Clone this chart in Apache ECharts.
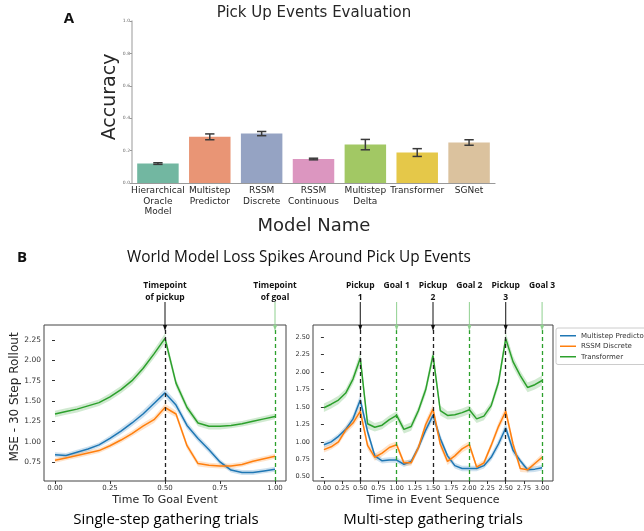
<!DOCTYPE html>
<html>
<head>
<meta charset="utf-8">
<script src="https://cdn.jsdelivr.net/npm/echarts@6/dist/echarts.min.js"></script>
<style>
  html, body { margin: 0; padding: 0; background: #fff; }
  #chart { width: 644px; height: 531px; }
</style>
</head>
<body>
<div id="chart"></div>
<script>
// ---- panel A: pick up accuracy per model ----
const modelNames = ['Hierarchical\nOracle\nModel', 'Multistep\nPredictor', 'RSSM\nDiscrete', 'RSSM\nContinuous', 'Multistep\nDelta', 'Transformer', 'SGNet'];
const accuracy = [0.12, 0.285, 0.305, 0.148, 0.237, 0.188, 0.25];
const accuracyErr = [0.005, 0.018, 0.013, 0.005, 0.032, 0.024, 0.017];
const barColors = ['#72b7a1', '#e99575', '#95a3c3', '#dc96c0', '#a2c864', '#e5c849', '#dbc29e'];

// ---- panel B left: single-step trials ----
const singleTime = [0, 0.05, 0.1, 0.15, 0.2, 0.25, 0.3, 0.35, 0.4, 0.45, 0.5, 0.55, 0.6, 0.65, 0.7, 0.75, 0.8, 0.85, 0.9, 0.95, 1.0];
const singleMultistep = [0.84, 0.83, 0.87, 0.91, 0.96, 1.04, 1.13, 1.23, 1.34, 1.47, 1.60, 1.45, 1.20, 1.04, 0.90, 0.75, 0.65, 0.62, 0.62, 0.64, 0.66];
const singleRssm = [0.77, 0.80, 0.83, 0.86, 0.89, 0.95, 1.02, 1.10, 1.19, 1.27, 1.42, 1.34, 0.95, 0.73, 0.71, 0.70, 0.70, 0.72, 0.76, 0.79, 0.82];
const singleTransformer = [1.34, 1.37, 1.40, 1.44, 1.48, 1.55, 1.64, 1.75, 1.90, 2.08, 2.27, 1.72, 1.42, 1.23, 1.19, 1.19, 1.20, 1.22, 1.25, 1.28, 1.31];
const singleErrMultistep = [0.03, 0.03, 0.03, 0.03, 0.03, 0.035, 0.04, 0.04, 0.045, 0.05, 0.05, 0.05, 0.045, 0.04, 0.04, 0.035, 0.03, 0.03, 0.03, 0.03, 0.03];
const singleErrRssm = [0.03, 0.03, 0.03, 0.03, 0.03, 0.03, 0.035, 0.035, 0.04, 0.04, 0.045, 0.04, 0.04, 0.035, 0.03, 0.03, 0.03, 0.03, 0.03, 0.03, 0.03];
const singleErrTransformer = [0.04, 0.04, 0.04, 0.04, 0.04, 0.045, 0.045, 0.05, 0.05, 0.055, 0.06, 0.05, 0.045, 0.04, 0.04, 0.04, 0.035, 0.035, 0.035, 0.035, 0.035];
const singleTicksX = [0, 0.25, 0.5, 0.75, 1.0];
const singleTicksY = [0.75, 1.0, 1.25, 1.5, 1.75, 2.0, 2.25];
const singleEventTimes = [0.5, 1.0];
const singleEventKinds = ['pickup', 'goal'];
const singleEventLabels = ['Timepoint\nof pickup', 'Timepoint\nof goal'];

// ---- panel B right: multi-step trials ----
const multiTime = [0, 0.1, 0.2, 0.3, 0.4, 0.5, 0.6, 0.7, 0.8, 0.9, 1.0, 1.1, 1.2, 1.3, 1.4, 1.5, 1.6, 1.7, 1.8, 1.9, 2.0, 2.1, 2.2, 2.3, 2.4, 2.5, 2.6, 2.7, 2.8, 2.9, 3.0];
const multiMultistep = [0.96, 1.00, 1.08, 1.18, 1.33, 1.60, 1.15, 0.80, 0.73, 0.74, 0.74, 0.68, 0.72, 0.92, 1.17, 1.38, 1.05, 0.80, 0.66, 0.62, 0.62, 0.62, 0.66, 0.78, 0.97, 1.20, 0.88, 0.73, 0.60, 0.61, 0.63];
const multiRssm = [0.89, 0.93, 1.00, 1.17, 1.27, 1.44, 0.95, 0.78, 0.84, 0.92, 0.96, 0.70, 0.70, 0.92, 1.25, 1.47, 0.97, 0.72, 0.80, 0.90, 0.96, 0.64, 0.70, 0.95, 1.22, 1.44, 0.97, 0.62, 0.60, 0.69, 0.78];
const multiTransformer = [1.49, 1.54, 1.60, 1.70, 1.90, 2.20, 1.26, 1.21, 1.24, 1.32, 1.38, 1.18, 1.22, 1.45, 1.75, 2.24, 1.45, 1.38, 1.39, 1.42, 1.46, 1.33, 1.37, 1.52, 1.85, 2.48, 2.15, 1.95, 1.78, 1.82, 1.88];
const multiErrMultistep = [0.04, 0.04, 0.04, 0.05, 0.06, 0.08, 0.06, 0.05, 0.04, 0.04, 0.04, 0.04, 0.04, 0.05, 0.06, 0.07, 0.06, 0.04, 0.04, 0.04, 0.04, 0.04, 0.04, 0.05, 0.06, 0.07, 0.06, 0.04, 0.04, 0.04, 0.04];
const multiErrRssm = [0.04, 0.04, 0.04, 0.05, 0.05, 0.07, 0.06, 0.05, 0.05, 0.05, 0.05, 0.04, 0.04, 0.05, 0.06, 0.07, 0.06, 0.05, 0.05, 0.05, 0.05, 0.04, 0.04, 0.05, 0.06, 0.07, 0.06, 0.05, 0.04, 0.04, 0.05];
const multiErrTransformer = [0.06, 0.06, 0.06, 0.06, 0.07, 0.09, 0.07, 0.06, 0.06, 0.06, 0.06, 0.06, 0.06, 0.06, 0.07, 0.09, 0.07, 0.06, 0.06, 0.06, 0.06, 0.06, 0.06, 0.06, 0.07, 0.09, 0.08, 0.07, 0.07, 0.07, 0.07];
const multiTicksX = [0, 0.25, 0.5, 0.75, 1.0, 1.25, 1.5, 1.75, 2.0, 2.25, 2.5, 2.75, 3.0];
const multiTicksY = [0.5, 0.75, 1.0, 1.25, 1.5, 1.75, 2.0, 2.25, 2.5];
const multiEventTimes = [0.5, 1.0, 1.5, 2.0, 2.5, 3.0];
const multiEventKinds = ['pickup', 'goal', 'pickup', 'goal', 'pickup', 'goal'];
const multiEventLabels = ['Pickup\n1', 'Goal 1', 'Pickup\n2', 'Goal 2', 'Pickup\n3', 'Goal 3'];

const seriesNames = ['Multistep Predictor', 'RSSM Discrete', 'Transformer'];
const lineColors = ['#1f77b4', '#ff7f0e', '#2ca02c'];
const bandColors = ['rgba(31,119,180,0.22)', 'rgba(255,127,14,0.22)', 'rgba(44,160,44,0.22)'];

const chart = echarts.init(document.getElementById('chart'));
const mplFont = 'DejaVu Sans';
const figFont = 'Open Sans';

function lineSeries(name, xs, ys, color, g, extra) {
  return Object.assign({
    type: 'line', name: name, xAxisIndex: g, yAxisIndex: g,
    data: xs.map((x, i) => [x, ys[i]]),
    showSymbol: false, symbol: 'none',
    lineStyle: { color: color, width: 1.5 }, itemStyle: { color: color },
    z: 3
  }, extra || {});
}

function bandSeries(xs, mean, err, fill, g) {
  return {
    type: 'custom', xAxisIndex: g, yAxisIndex: g, silent: true, z: 2,
    data: [[xs[0], mean[0]]],
    renderItem: function (params, api) {
      const up = xs.map((x, i) => api.coord([x, mean[i] + err[i]]));
      const lo = xs.map((x, i) => api.coord([x, mean[i] - err[i]])).reverse();
      return { type: 'polygon', shape: { points: up.concat(lo) }, style: { fill: fill } };
    }
  };
}

function eventMarks(times, kinds) {
  return {
    silent: true, symbol: ['none', 'none'], label: { show: false },
    data: times.map((t, i) => ({
      xAxis: t,
      lineStyle: { color: kinds[i] === 'pickup' ? '#222' : '#2ca02c', type: [4, 3], width: 1.3 }
    }))
  };
}

function valueAxis(g, min, max, ticks, fontSize, isX) {
  return {
    type: 'value', gridIndex: g, min: min, max: max,
    axisLine: { show: false },
    splitLine: { show: false },
    axisTick: { show: true, length: 3, customValues: ticks, lineStyle: { color: '#333' } },
    axisLabel: {
      customValues: ticks, fontSize: fontSize, fontFamily: mplFont, color: '#333', margin: isX ? 4 : 3,
      formatter: v => v.toFixed(2)
    }
  };
}

const boxGrid = { show: true, borderColor: '#444', borderWidth: 1, backgroundColor: 'transparent' };

function txt(text, x, y, size, opts) {
  const o = opts || {};
  return {
    type: 'text', x: x, y: y, rotation: o.rotation || 0, z: 50,
    style: {
      text: text, fontSize: size, fontFamily: o.font || mplFont, fontWeight: o.weight || 'normal',
      fill: o.color || '#262626', align: o.align || 'center', verticalAlign: o.valign || 'middle',
      lineHeight: o.lineHeight
    }
  };
}

const staticGraphics = [
  txt('A', 69, 19, 15, { weight: 'bold', font: figFont, color: '#111' }),
  txt('Pick Up Events Evaluation', 314, 13, 15),
  txt('Accuracy', 110, 97, 19, { rotation: Math.PI / 2 }),
  txt('Model Name', 314, 226, 18),
  txt('B', 22, 258, 15, { weight: 'bold', font: figFont, color: '#111' }),
  txt('World Model Loss Spikes Around Pick Up Events', 127, 258, 15.4, { align: 'left', font: figFont, color: '#111' }),
  txt('MSE - 30 Step Rollout', 15, 397, 12, { rotation: Math.PI / 2 }),
  txt('Time To Goal Event', 165, 500, 11),
  txt('Time in Event Sequence', 433, 500, 11),
  txt('Single-step gathering trials', 166, 520, 15, { font: figFont, color: '#000', weight: 500 }),
  txt('Multi-step gathering trials', 433, 520, 15, { font: figFont, color: '#000', weight: 500 })
];

const option = {
  animation: false,
  backgroundColor: '#fff',
  grid: [
    { left: 132, top: 21, width: 363, height: 162 },
    Object.assign({ left: 44, top: 325, width: 242, height: 156 }, boxGrid),
    Object.assign({ left: 313, top: 325, width: 240, height: 156 }, boxGrid)
  ],
  xAxis: [
    {
      type: 'category', gridIndex: 0, data: modelNames,
      axisLine: { show: true, lineStyle: { color: '#999', width: 1.2 } },
      axisTick: { show: false },
      axisLabel: { interval: 0, fontSize: 9, lineHeight: 10.3, fontFamily: mplFont, color: '#262626', margin: 3 }
    },
    valueAxis(1, -0.05, 1.05, singleTicksX, 7, true),
    valueAxis(2, -0.15, 3.15, multiTicksX, 6.5, true)
  ],
  yAxis: [
    {
      type: 'value', gridIndex: 0, min: 0, max: 1, interval: 0.2,
      axisLine: { show: true, lineStyle: { color: '#bbb', width: 1.5 } },
      axisTick: { show: true, length: 2, lineStyle: { color: '#999' } },
      axisLabel: { fontSize: 4.5, color: '#666', margin: 2, fontFamily: mplFont, formatter: v => v.toFixed(1) },
      splitLine: { show: false }
    },
    valueAxis(1, 0.516, 2.435, singleTicksY, 7.5, false),
    valueAxis(2, 0.44, 2.675, multiTicksY, 6.5, false)
  ],
  legend: {
    data: seriesNames, orient: 'vertical', left: 556, top: 328,
    icon: 'rect', itemWidth: 16, itemHeight: 1.5, itemGap: 3,
    padding: [4, 6, 4, 4], borderColor: '#ccc', borderWidth: 1, borderRadius: 2,
    backgroundColor: '#fff', selectedMode: false,
    textStyle: { fontSize: 7, lineHeight: 7.5, color: '#333', fontFamily: mplFont }
  },
  series: [
    {
      type: 'bar', xAxisIndex: 0, yAxisIndex: 0, barCategoryGap: '20%',
      data: accuracy.map((v, i) => ({ value: v, itemStyle: { color: barColors[i] } }))
    },
    {
      type: 'custom', xAxisIndex: 0, yAxisIndex: 0, z: 5, silent: true,
      data: accuracy.map((v, i) => [i, v, accuracyErr[i]]),
      encode: { x: 0, y: 1 },
      renderItem: function (params, api) {
        const i = api.value(0), m = api.value(1), e = api.value(2);
        const hi = api.coord([i, m + e]), lo = api.coord([i, m - e]);
        const cap = api.size([1, 0])[0] * 0.09;
        const st = { stroke: '#3a3a3a', lineWidth: 1.5 };
        return {
          type: 'group', children: [
            { type: 'line', shape: { x1: hi[0], y1: hi[1], x2: lo[0], y2: lo[1] }, style: st },
            { type: 'line', shape: { x1: hi[0] - cap, y1: hi[1], x2: hi[0] + cap, y2: hi[1] }, style: st },
            { type: 'line', shape: { x1: lo[0] - cap, y1: lo[1], x2: lo[0] + cap, y2: lo[1] }, style: st }
          ]
        };
      }
    },
    // single-step panel
    bandSeries(singleTime, singleMultistep, singleErrMultistep, bandColors[0], 1),
    bandSeries(singleTime, singleRssm, singleErrRssm, bandColors[1], 1),
    bandSeries(singleTime, singleTransformer, singleErrTransformer, bandColors[2], 1),
    lineSeries(seriesNames[0], singleTime, singleMultistep, lineColors[0], 1, { markLine: eventMarks(singleEventTimes, singleEventKinds) }),
    lineSeries(seriesNames[1], singleTime, singleRssm, lineColors[1], 1),
    lineSeries(seriesNames[2], singleTime, singleTransformer, lineColors[2], 1),
    // multi-step panel
    bandSeries(multiTime, multiMultistep, multiErrMultistep, bandColors[0], 2),
    bandSeries(multiTime, multiRssm, multiErrRssm, bandColors[1], 2),
    bandSeries(multiTime, multiTransformer, multiErrTransformer, bandColors[2], 2),
    lineSeries(seriesNames[0], multiTime, multiMultistep, lineColors[0], 2, { markLine: eventMarks(multiEventTimes, multiEventKinds) }),
    lineSeries(seriesNames[1], multiTime, multiRssm, lineColors[1], 2),
    lineSeries(seriesNames[2], multiTime, multiTransformer, lineColors[2], 2)
  ],
  graphic: { elements: staticGraphics }
};

chart.setOption(option);

// arrows + event names above each panel, placed through the axis scale
function eventGraphics(g, times, kinds, labels, yMax) {
  const els = [];
  times.forEach((t, i) => {
    const p = chart.convertToPixel({ gridIndex: g }, [t, yMax]);
    const x = p[0], top = p[1];
    const col = kinds[i] === 'pickup' ? '#111' : '#8fd08f';
    els.push({ type: 'line', z: 40, shape: { x1: x, y1: 302, x2: x, y2: top + 2 }, style: { stroke: col, lineWidth: 1 } });
    els.push({ type: 'polygon', z: 40, shape: { points: [[x - 2, top], [x + 2, top], [x, top + 6]] }, style: { fill: col } });
    els.push(txt(labels[i], x, 280, 8.5, { font: figFont, weight: 'bold', color: '#111', valign: 'top', lineHeight: 12 }));
  });
  return els;
}

const dyn = eventGraphics(1, singleEventTimes, singleEventKinds, singleEventLabels, 2.435)
  .concat(eventGraphics(2, multiEventTimes, multiEventKinds, multiEventLabels, 2.675));
chart.setOption({ graphic: { elements: staticGraphics.concat(dyn) } });
</script>
</body>
</html>
